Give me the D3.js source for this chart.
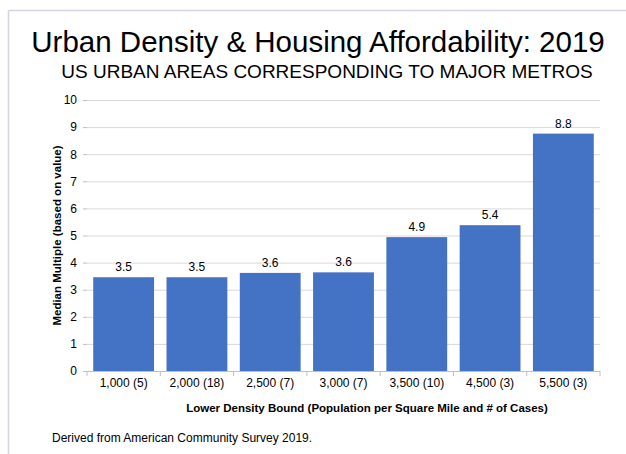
<!DOCTYPE html>
<html lang="en">
  <head>
    <meta charset="utf-8">
    <title>Urban Density & Housing Affordability</title>
    <script src="https://cdnjs.cloudflare.com/ajax/libs/d3/7.8.5/d3.min.js"></script>
    <style type="text/css">
      body { margin: 0; background: #fff; }
      text { font-family: Arial, "Liberation Sans", sans-serif; fill: #000; }
      .grid line { stroke: #d9d9d9; stroke-width: 1; }
      .grid path { display: none; }
      .bar { fill: #4472c4; }
      .tick text { font-size: 12px; }
    </style>
  </head>
  <body>
    <svg id="chart" width="626" height="454"></svg>
    <script type="text/javascript">
      // categories and values
      var categories = ["1,000 (5)", "2,000 (18)", "2,500 (7)", "3,000 (7)", "3,500 (10)", "4,500 (3)", "5,500 (3)"];
      var values = [3.46, 3.46, 3.62, 3.64, 4.94, 5.38, 8.76];
      var yTicks = [0, 1, 2, 3, 4, 5, 6, 7, 8, 9, 10];

      var data = categories.map(function(c, i) { return {name: c, value: values[i]}; });

      var svg = d3.select("#chart"),
        margin = {top: 100, right: 26, bottom: 83, left: 87},
        width = +svg.attr("width") - margin.left - margin.right,
        height = +svg.attr("height") - margin.top - margin.bottom;

      // light frame round the slide
      svg.append("line").attr("x1", 8.5).attr("x2", 626).attr("y1", 10.5).attr("y2", 10.5)
        .attr("stroke", "#d4d4e2").attr("stroke-width", 1.5);
      svg.append("line").attr("x1", 8.5).attr("x2", 8.5).attr("y1", 10.5).attr("y2", 454)
        .attr("stroke", "#d4d4e2").attr("stroke-width", 1.5);

      var x = d3.scaleBand().domain(categories).range([0, width]).paddingInner(0.17).paddingOuter(0.085);
      var xTickScale = d3.scaleBand().domain(categories).range([0, width]);
      var y = d3.scaleLinear().domain([0, 10]).range([height, 0]);

      var g = svg.append("g")
        .attr("transform", "translate(" + margin.left + "," + margin.top + ")");

      // gridlines
      g.append("g")
        .attr("class", "grid")
        .call(d3.axisLeft(y).tickValues(yTicks.slice(1)).tickSize(-width).tickFormat(""));

      // y axis ticks + labels
      var yAxis = g.append("g")
        .call(d3.axisLeft(y).tickValues(yTicks).tickSize(4).tickPadding(6));
      yAxis.select(".domain").remove();
      yAxis.selectAll(".tick line").attr("stroke", "#bfbfbf");

      // bars
      g.selectAll(".bar")
        .data(data)
        .enter().append("rect")
          .attr("class", "bar")
          .attr("x", function(d) { return x(d.name); })
          .attr("width", x.bandwidth())
          .attr("y", function(d) { return y(d.value); })
          .attr("height", function(d) { return height - y(d.value); });

      // value labels
      g.selectAll(".val")
        .data(data)
        .enter().append("text")
          .attr("class", "val")
          .attr("x", function(d) { return x(d.name) + x.bandwidth() / 2; })
          .attr("y", function(d) { return y(d.value) - 6; })
          .attr("text-anchor", "middle")
          .style("font-size", "12px")
          .text(function(d) { return d3.format(".1f")(d.value); });

      // x axis line with ticks between categories
      g.append("line")
        .attr("x1", -4).attr("x2", width)
        .attr("y1", height + 0.5).attr("y2", height + 0.5)
        .attr("stroke", "#bfbfbf");
      g.selectAll(".xtick")
        .data(d3.range(categories.length + 1))
        .enter().append("line")
          .attr("x1", function(i) { return i * xTickScale.step(); })
          .attr("x2", function(i) { return i * xTickScale.step(); })
          .attr("y1", height).attr("y2", height + 5)
          .attr("stroke", "#bfbfbf");
      g.selectAll(".xlab")
        .data(categories)
        .enter().append("text")
          .attr("x", function(d) { return xTickScale(d) + xTickScale.bandwidth() / 2; })
          .attr("y", height + 15.5)
          .attr("text-anchor", "middle")
          .style("font-size", "12px")
          .text(function(d) { return d; });

      // titles
      svg.append("text")
        .attr("x", 318).attr("y", 52)
        .attr("text-anchor", "middle")
        .style("font-size", "29.5px")
        .text("Urban Density & Housing Affordability: 2019");
      svg.append("text")
        .attr("x", 327).attr("y", 78)
        .attr("text-anchor", "middle")
        .style("font-size", "19px")
        .text("US URBAN AREAS CORRESPONDING TO MAJOR METROS");

      // axis titles
      svg.append("text")
        .attr("transform", "translate(61," + (margin.top + height / 2) + ") rotate(-90)")
        .attr("text-anchor", "middle")
        .style("font-size", "11.5px")
        .style("font-weight", "bold")
        .text("Median Multiple (based on value)");
      svg.append("text")
        .attr("x", 367).attr("y", 412)
        .attr("text-anchor", "middle")
        .style("font-size", "11.5px")
        .style("font-weight", "bold")
        .text("Lower Density Bound (Population per Square Mile and # of Cases)");

      // source note
      svg.append("text")
        .attr("x", 52).attr("y", 442)
        .style("font-size", "12px")
        .text("Derived from American Community Survey 2019.");
    </script>
  </body>
</html>
